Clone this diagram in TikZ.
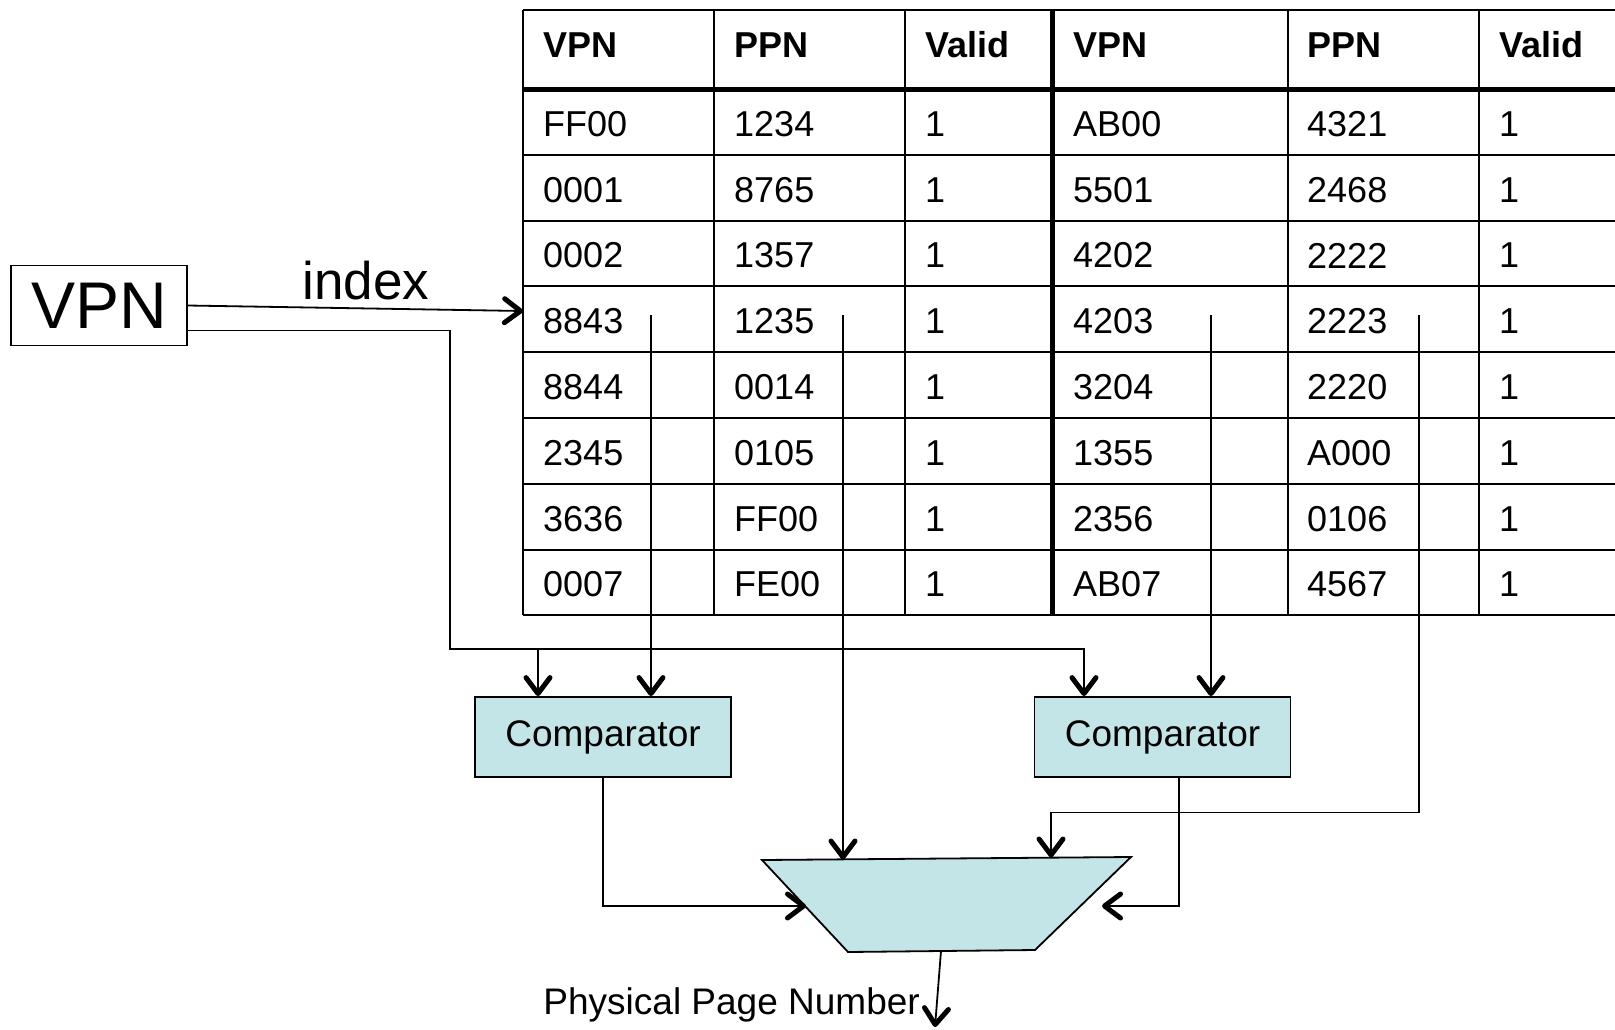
\documentclass[tikz,border=0pt]{standalone}
\usepackage{fontspec}
\setmainfont{Liberation Sans}
\usetikzlibrary{arrows.meta, positioning}
\definecolor{compfill}{RGB}{196,229,231}

\tikzset{
  wire/.style={line width=1.8pt},
  feed/.style={wire, -{Straight Barb[length=16pt, width=24pt, line width=5pt 0, round]}},
  gridline/.style={line width=2pt},
  boldline/.style={line width=5pt},
  cell/.style={anchor=west, inner sep=0pt, font=\fontsize{36}{40}\selectfont},
  head/.style={anchor=west, inner sep=0pt, font=\fontsize{36}{40}\selectfont\bfseries},
  compbox/.style={draw, line width=1.8pt, fill=compfill, minimum width=256pt, minimum height=80pt, inner sep=0pt, font=\fontsize{37}{44}\selectfont}
}

\begin{document}
\begin{tikzpicture}[x=1pt, y=1pt]
			\useasboundingbox (0,0) rectangle (1615,-1029);

			% Draw the table grid
			\draw[gridline] (523,-10) -- (1615,-10);
			\draw[gridline] (523,-154.8) -- (1615,-154.8);
			\draw[gridline] (523,-220.6) -- (1615,-220.6);
			\draw[gridline] (523,-286.4) -- (1615,-286.4);
			\draw[gridline] (523,-352.2) -- (1615,-352.2);
			\draw[gridline] (523,-418) -- (1615,-418);
			\draw[gridline] (523,-483.8) -- (1615,-483.8);
			\draw[gridline] (523,-549.6) -- (1615,-549.6);
			\draw[gridline] (523,-615.4) -- (1615,-615.4);
			\draw[gridline] (523,-10) -- (523,-615.4);
			\draw[gridline] (714,-10) -- (714,-615.4);
			\draw[gridline] (905,-10) -- (905,-615.4);
			\draw[gridline] (1288,-10) -- (1288,-615.4);
			\draw[gridline] (1479,-10) -- (1479,-615.4);
			\draw[boldline] (523,-89) -- (1615,-89);
			\draw[boldline] (1052,-10) -- (1052,-615.4);

			% Header
			\node[head] (hVpnA) at (543,-45) {VPN};
			\node[head] (hPpnA) at (734,-45) {PPN};
			\node[head] (hValA) at (925,-45) {Valid};
			\node[head] (hVpnB) at (1073,-45) {VPN};
			\node[head] (hPpnB) at (1307,-45) {PPN};
			\node[head] (hValB) at (1499,-45) {Valid};

			% Rows
			\node[cell] (vpnA1) at (543,-124) {FF00};
			\node[cell] (ppnA1) at (734,-124) {1234};
			\node[cell] (valA1) at (925,-124) {1};
			\node[cell] (vpnB1) at (1073,-124) {AB00};
			\node[cell] (ppnB1) at (1307,-124) {4321};
			\node[cell] (valB1) at (1499,-124) {1};

			\node[cell] (vpnA2) at (543,-189.7) {0001};
			\node[cell] (ppnA2) at (734,-189.7) {8765};
			\node[cell] (valA2) at (925,-189.7) {1};
			\node[cell] (vpnB2) at (1073,-189.7) {5501};
			\node[cell] (ppnB2) at (1307,-189.7) {2468};
			\node[cell] (valB2) at (1499,-189.7) {1};

			\node[cell] (vpnA3) at (543,-255.5) {0002};
			\node[cell] (ppnA3) at (734,-255.5) {1357};
			\node[cell] (valA3) at (925,-255.5) {1};
			\node[cell] (vpnB3) at (1073,-255.5) {4202};
			\node[cell] (ppnB3) at (1307,-255.5) {2222};
			\node[cell] (valB3) at (1499,-255.5) {1};

			\node[cell] (vpnA4) at (543,-321.3) {8843};
			\node[cell] (ppnA4) at (734,-321.3) {1235};
			\node[cell] (valA4) at (925,-321.3) {1};
			\node[cell] (vpnB4) at (1073,-321.3) {4203};
			\node[cell] (ppnB4) at (1307,-321.3) {2223};
			\node[cell] (valB4) at (1499,-321.3) {1};

			\node[cell] (vpnA5) at (543,-387.1) {8844};
			\node[cell] (ppnA5) at (734,-387.1) {0014};
			\node[cell] (valA5) at (925,-387.1) {1};
			\node[cell] (vpnB5) at (1073,-387.1) {3204};
			\node[cell] (ppnB5) at (1307,-387.1) {2220};
			\node[cell] (valB5) at (1499,-387.1) {1};

			\node[cell] (vpnA6) at (543,-452.9) {2345};
			\node[cell] (ppnA6) at (734,-452.9) {0105};
			\node[cell] (valA6) at (925,-452.9) {1};
			\node[cell] (vpnB6) at (1073,-452.9) {1355};
			\node[cell] (ppnB6) at (1307,-452.9) {A000};
			\node[cell] (valB6) at (1499,-452.9) {1};

			\node[cell] (vpnA7) at (543,-518.7) {3636};
			\node[cell] (ppnA7) at (734,-518.7) {FF00};
			\node[cell] (valA7) at (925,-518.7) {1};
			\node[cell] (vpnB7) at (1073,-518.7) {2356};
			\node[cell] (ppnB7) at (1307,-518.7) {0106};
			\node[cell] (valB7) at (1499,-518.7) {1};

			\node[cell] (vpnA8) at (543,-584.5) {0007};
			\node[cell] (ppnA8) at (734,-584.5) {FE00};
			\node[cell] (valA8) at (925,-584.5) {1};
			\node[cell] (vpnB8) at (1073,-584.5) {AB07};
			\node[cell] (ppnB8) at (1307,-584.5) {4567};
			\node[cell] (valB8) at (1499,-584.5) {1};

			% VPN input and index
			\node[draw, line width=1.8pt, minimum width=176pt, minimum height=80pt, inner sep=0pt, font=\fontsize{66}{70}\selectfont] (vpn) at (99,-305.5) {VPN};
			\node[font=\fontsize{53}{60}\selectfont, inner sep=0pt] (idx) at (366,-281) {index};
			\coordinate (tabIn) at (523,-311);
			\draw[feed] (vpn.east) -- (tabIn);

			% Comparators
			\node[compbox] (compA) at (603,-737) {Comparator};
			\node[compbox] (compB) at (1162.5,-737) {Comparator};

			% Taps out of the selected row
			\coordinate (tapA) at (651,-315);
			\coordinate (tapB) at (1211,-315);
			\coordinate (tapC) at (843,-315);
			\coordinate (tapD) at (1419,-315);
			\coordinate (bus) at (450,-649);

			\draw[feed] ([yshift=-25pt]vpn.east) -| (bus) -| ([xshift=-78.5pt]compB.north);
			\draw[feed] ([xshift=-65pt]compA.north |- bus) -- ([xshift=-65pt]compA.north);
			\draw[feed] (tapA) -- (tapA |- compA.north);
			\draw[feed] (tapB) -- (tapB |- compB.north);

			% Draw the mux
			\coordinate (muxTL) at (762,-860);
			\coordinate (muxTR) at (1131,-857);
			\coordinate (muxBR) at (1035,-950);
			\coordinate (muxBL) at (848,-952);
			\draw[wire, fill=compfill] (muxTL) -- (muxTR) -- (muxBR) -- (muxBL) -- cycle;

			\coordinate (muxL) at (806,-906);
			\coordinate (muxR) at (1102,-906);
			\coordinate (muxInA) at (843,-859.5);
			\coordinate (muxInB) at (1051,-857.5);
			\coordinate (muxOut) at (941,-951);
			\coordinate (ppnOut) at (935,-1027);

			\draw[feed] (tapC) -- (muxInA);
			\draw[feed] (tapD) |- ([yshift=45pt]muxInB) -- (muxInB);
			\draw[feed] (compA.south) |- (muxL);
			\draw[feed] ([xshift=16.5pt]compB.south) |- (muxR);
			\draw[feed] (muxOut) -- (ppnOut);

			\node[anchor=east, inner sep=0pt, font=\fontsize{37}{44}\selectfont] (ppnLabel) at (920,-1005) {Physical Page Number};

		\end{tikzpicture}
\end{document}
